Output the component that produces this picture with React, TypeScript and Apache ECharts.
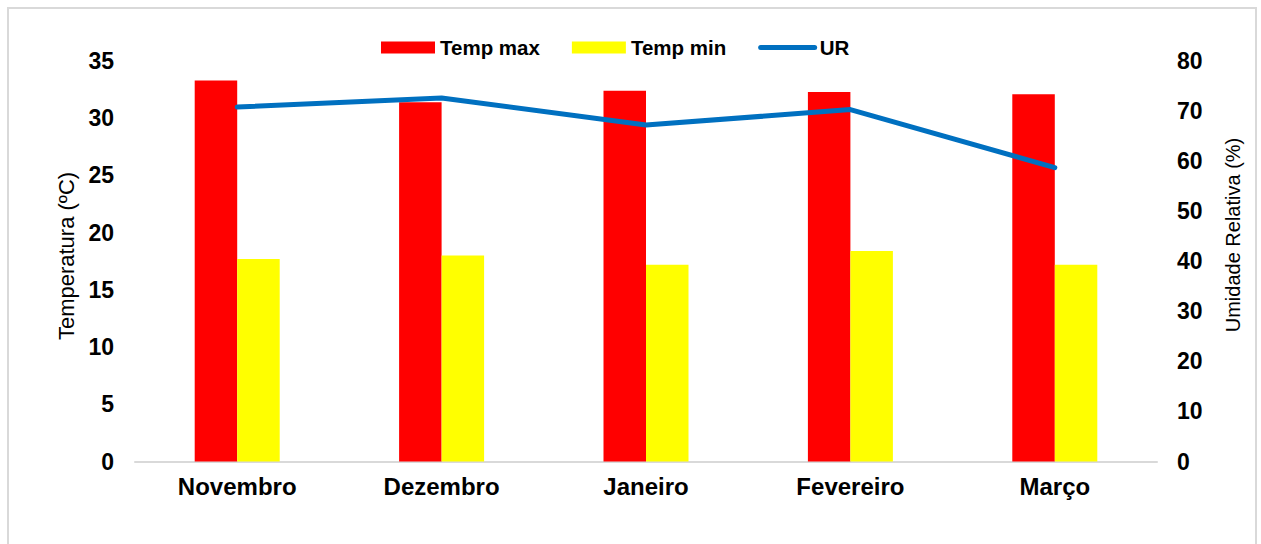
import React, { useEffect, useRef } from "react";
import * as echarts from "echarts";

// Monthly climate summary: temperatures (bars, left axis) and relative humidity (line, right axis)
const months = ["Novembro", "Dezembro", "Janeiro", "Fevereiro", "Março"];
const tempMax = [33.3, 31.4, 32.4, 32.3, 32.1];
const tempMin = [17.7, 18.0, 17.2, 18.4, 17.2];
const umidade = [70.8, 72.6, 67.2, 70.3, 58.7];

const FONT = "'Liberation Sans', Arial, sans-serif";

export default function App() {
  const ref = useRef<HTMLDivElement>(null);

  useEffect(() => {
    document.body.style.margin = "0";
    document.body.style.overflow = "hidden";
    if (!ref.current) return;
    const chart = echarts.init(ref.current, undefined, { renderer: "svg" });
    chart.setOption({
      animation: false,
      backgroundColor: "#ffffff",
      textStyle: { fontFamily: FONT, color: "#000" },
      graphic: [
        {
          type: "rect",
          shape: { x: 8, y: 8, width: 1248, height: 560 },
          style: { fill: "none", stroke: "#d9d9d9", lineWidth: 2 },
          silent: true,
        },
        {
          type: "text",
          x: 66,
          y: 256,
          rotation: Math.PI / 2,
          style: {
            text: "Temperatura (ºC)",
            fontFamily: FONT,
            fontSize: 22,
            fill: "#000",
            align: "center",
            verticalAlign: "middle",
          },
          silent: true,
        },
        {
          type: "text",
          x: 1233,
          y: 235,
          rotation: Math.PI / 2,
          style: {
            text: "Umidade Relativa (%)",
            fontFamily: FONT,
            fontSize: 20,
            fill: "#000",
            align: "center",
            verticalAlign: "middle",
          },
          silent: true,
        },
      ],
      legend: {
        left: 376,
        top: 32,
        itemWidth: 54,
        itemHeight: 12,
        itemGap: 32,
        textStyle: { fontFamily: FONT, fontWeight: "bold", fontSize: 20.5, color: "#000" },
        data: [
          { name: "Temp max", icon: "rect" },
          { name: "Temp min", icon: "rect" },
          {
            name: "UR",
            itemStyle: { opacity: 0 },
            lineStyle: { width: 5, cap: "round", color: "#0070c0" },
          },
        ],
      },
      grid: { left: 135, right: 104, top: 61, bottom: 82.5 },
      xAxis: {
        type: "category",
        data: months,
        axisLine: { show: true, lineStyle: { color: "#d9d9d9", width: 2 } },
        axisTick: { show: false },
        axisLabel: {
          fontFamily: FONT,
          fontWeight: "bold",
          fontSize: 24,
          color: "#000",
          margin: 13,
        },
      },
      yAxis: [
        {
          type: "value",
          min: 0,
          max: 35,
          interval: 5,
          axisLine: { show: false },
          axisTick: { show: false },
          splitLine: { show: false },
          axisLabel: {
            fontFamily: FONT,
            fontWeight: "bold",
            fontSize: 23,
            color: "#000",
            margin: 21,
          },
        },
        {
          type: "value",
          min: 0,
          max: 80,
          interval: 10,
          axisLine: { show: false },
          axisTick: { show: false },
          splitLine: { show: false },
          axisLabel: {
            fontFamily: FONT,
            fontWeight: "bold",
            fontSize: 23,
            color: "#000",
            margin: 20,
          },
        },
      ],
      series: [
        {
          name: "Temp max",
          type: "bar",
          yAxisIndex: 0,
          data: tempMax,
          barWidth: 42.5,
          barGap: "0%",
          itemStyle: { color: "#ff0000" },
        },
        {
          name: "Temp min",
          type: "bar",
          yAxisIndex: 0,
          data: tempMin,
          barWidth: 42.5,
          barGap: "0%",
          itemStyle: { color: "#ffff00" },
        },
        {
          name: "UR",
          type: "line",
          yAxisIndex: 1,
          data: umidade,
          symbol: "none",
          lineStyle: { color: "#0070c0", width: 5, cap: "round", join: "round" },
          itemStyle: { color: "#0070c0" },
        },
      ],
    });
    return () => chart.dispose();
  }, []);

  return <div ref={ref} style={{ width: 1261, height: 544 }} />;
}
